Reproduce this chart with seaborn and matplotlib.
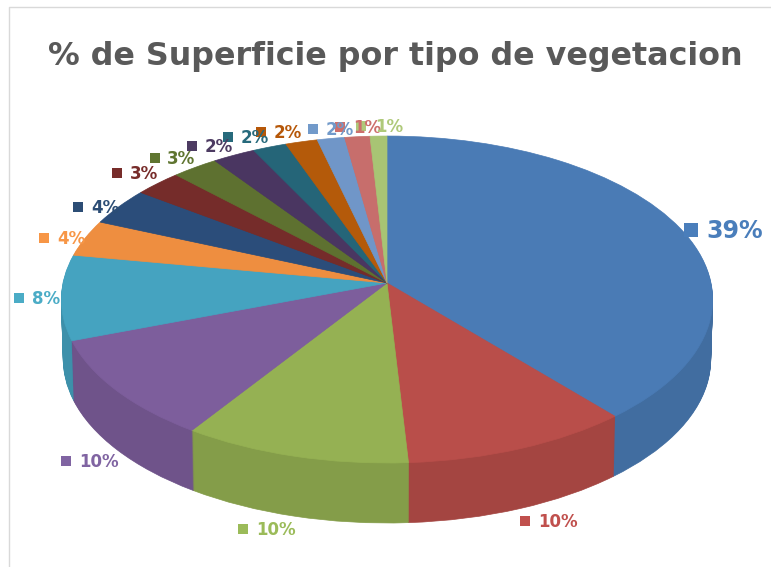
import matplotlib
matplotlib.use("Agg")
import matplotlib.pyplot as plt
import numpy as np
import seaborn as sns
from matplotlib.transforms import Transform

# --- data -------------------------------------------------------------
title_text = "% de Superficie por tipo de vegetacion"
shares = [38.75, 10.3, 10.25, 10.1, 8.4, 3.6, 3.7, 2.6, 2.55, 2.35, 1.85, 1.75, 1.5, 1.38, 0.92]
slice_hex = ["#4a7bb5", "#b94e4a", "#95b153", "#7d5e9c", "#45a3c0", "#ee8e40", "#2b4d7a",
             "#752c2a", "#5e7130", "#4a3661", "#256578", "#b45a0a", "#7096c8", "#c76e6c", "#a8c474"]
label_hex = ["#4a7ebb", "#c0504d", "#9bbb59", "#8064a2", "#4bacc6", "#f79646", "#2c4d75",
             "#772c2a", "#5f7530", "#4d3b62", "#276a7c", "#b65708", "#729aca", "#cd6f6c", "#afc97a"]
# key-square centre and text start of each outside label, in picture pixels
key_x = [691, 525, 243, 66, 19, 44, 78, 117, 155, 192, 228, 261, 313, 340, 361]
key_y = [230, 521, 529, 461, 298, 238, 207, 173, 158, 146, 137, 132, 129, 127, 126]
text_x = [706, 538, 256, 79, 32, 57, 91, 130, 167, 205, 241, 274, 326, 353, 375]

# --- styling ----------------------------------------------------------
sns.set_theme(style="white")
plt.rcParams["font.family"] = ["DejaVu Sans"]
palette = sns.color_palette(slice_hex)
wall_palette = [tuple(0.885 * c for c in col) for col in palette]
text_palette = sns.color_palette(label_hex)

fig = plt.figure(figsize=(7.71, 5.67), dpi=100, facecolor="white")
ax = fig.add_axes([0, 0, 1, 1])


class PiePerspective(Transform):
    """Tilted-disc projection of the unit pie onto picture pixels."""
    input_dims = 2
    output_dims = 2
    is_separable = False
    has_inverse = False

    def __init__(self, drop=0.0, shrink=1.0):
        super().__init__()
        self.drop = drop
        self.shrink = shrink

    def transform_non_affine(self, values):
        values = np.asarray(values, dtype=float)
        w = 1 + 0.101 * values[:, 1]
        px = 387 + 324 * self.shrink * values[:, 0] / w
        py = 283 - 161.8 * values[:, 1] / w + self.drop
        return np.column_stack([px, py])


def draw_pie(colors, drop, shrink, z):
    wedges, _ = ax.pie(shares, colors=colors, startangle=90, counterclock=False,
                       wedgeprops={"linewidth": 0.5, "antialiased": True})
    for w, c in zip(wedges, colors):
        w.set_edgecolor(c)
        w.set_zorder(z)
        w.set_transform(PiePerspective(drop, shrink) + ax.transData)


# side wall: stacked darker discs, then the top face
depth = 60
for i, d in enumerate(range(depth, 0, -1)):
    draw_pie(wall_palette, d, 1 - 0.006 * d / depth, 1 + i * 0.005)
draw_pie(palette, 0, 1.0, 2)

ax.set_aspect("auto")
ax.set_xlim(0, 771)
ax.set_ylim(567, 0)
ax.set_xticks([])
ax.set_yticks([])
ax.set_frame_on(False)

# chart-area border (top and left)
ax.plot([771, 8.5, 8.5], [6.5, 6.5, 567], color="#d9d9d9", lw=1.0, zorder=0)

ax.text(395.5, 57, title_text, ha="center", va="center", color="#595959",
        fontsize=22.9, fontweight="bold", zorder=5)

for i, share in enumerate(shares):
    big = i == 0
    ax.plot([key_x[i]], [key_y[i]], marker="s", ls="none", color=text_palette[i],
            ms=10 if big else 7, mew=0, zorder=5)
    ax.text(text_x[i], key_y[i] + 1, f"{round(share)}%", ha="left", va="center",
            color=text_palette[i], fontsize=17 if big else 12, fontweight="bold", zorder=6)

fig.savefig("out.png", dpi=100)
